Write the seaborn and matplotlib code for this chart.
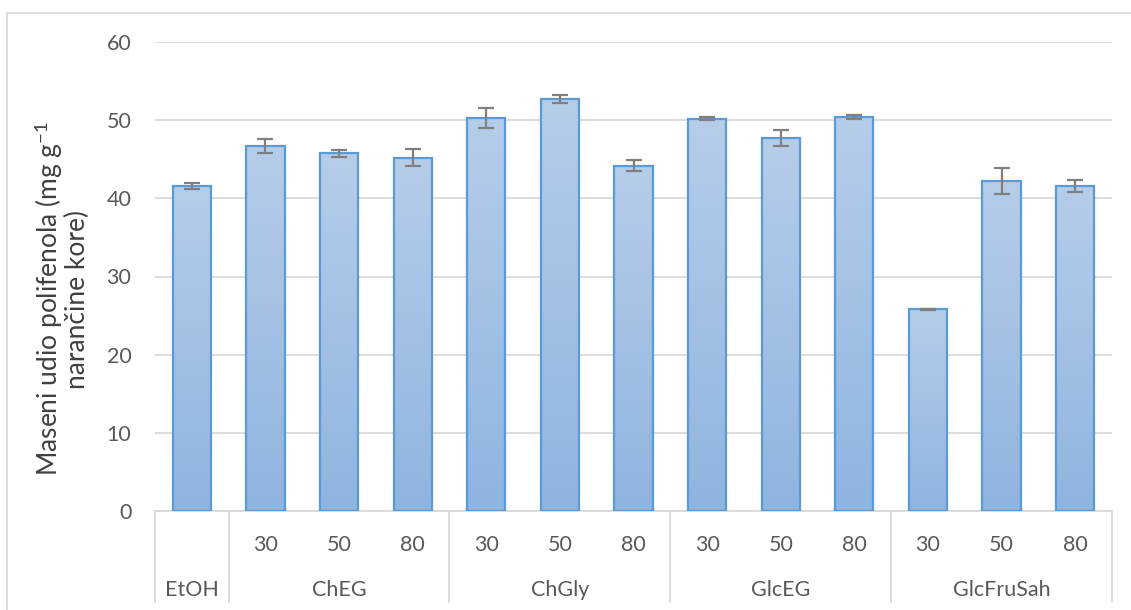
import numpy as np
import pandas as pd
import matplotlib
matplotlib.use("Agg")
import matplotlib.pyplot as plt
import matplotlib.transforms as mtransforms
from matplotlib.colors import LinearSegmentedColormap
import seaborn as sns

# ---- data ----
groups = ["EtOH", "ChEG", "ChGly", "GlcEG", "GlcFruSah"]
group_sizes = [1, 3, 3, 3, 3]
sub_labels = ["", "30", "50", "80", "30", "50", "80", "30", "50", "80", "30", "50", "80"]
values = [41.6, 46.7, 45.75, 45.2, 50.3, 52.7, 44.2, 50.2, 47.7, 50.4, 25.8, 42.2, 41.6]
errors = [0.4, 0.9, 0.45, 1.05, 1.3, 0.55, 0.7, 0.15, 1.0, 0.3, 0.1, 1.7, 0.75]
y_ticks = [0, 10, 20, 30, 40, 50, 60]

sns.set_theme(style="white")
plt.rcParams["font.family"] = ["Lato", "DejaVu Sans"]
plt.rcParams["mathtext.fontset"] = "custom"
plt.rcParams["mathtext.rm"] = "Lato"
plt.rcParams["mathtext.it"] = "Lato:italic"

keys = [f"{i:02d}" for i in range(len(values))]
df = pd.DataFrame({"key": keys, "value": values})

fig = plt.figure(figsize=(11.31, 6.10), dpi=100)
ax = fig.add_axes([155 / 1131, 1 - 511 / 610, (1112 - 155) / 1131, (511 - 42) / 610])

sns.barplot(data=df, x="key", y="value", ax=ax, width=0.52, color="#a4c2e6",
            edgecolor="#5b9bd5", linewidth=1.6, errorbar=None, zorder=3)

# gradient fill clipped to bars
grad = np.linspace(0, 1, 256).reshape(-1, 1)
cmap = LinearSegmentedColormap.from_list("g", ["#b6cde9", "#8fb4e0"])
for p in ax.patches:
    x0, y0 = p.get_x(), p.get_y()
    w, h = p.get_width(), p.get_height()
    im = ax.imshow(grad, cmap=cmap, extent=[x0, x0 + w, y0, y0 + h], origin="upper",
                   aspect="auto", zorder=3.5)
    im.set_clip_path(p)
    p.set_facecolor("none")
    p.set_zorder(4)

centers = [p.get_x() + p.get_width() / 2 for p in ax.patches]
ax.errorbar(centers, values, yerr=errors, fmt="none", ecolor="#7f7f7f",
            elinewidth=1.6, capsize=6, capthick=1.6, zorder=5)

ax.set_xlim(-0.5, len(values) - 0.5)
ax.set_ylim(0, 60)
ax.set_yticks(y_ticks)
ax.set_yticklabels([str(t) for t in y_ticks], fontsize=15.5, color="#595959")
ax.tick_params(axis="y", length=0, pad=17)
ax.yaxis.grid(True, color="#d9d9d9", linewidth=1.3, zorder=0)
ax.set_axisbelow(True)
for s in ["top", "right", "left"]:
    ax.spines[s].set_visible(False)
ax.spines["bottom"].set_color("#d9d9d9")
ax.spines["bottom"].set_linewidth(1.3)

ax.set_xticks(range(len(values)))
ax.set_xticklabels(sub_labels, fontsize=15.5, color="#595959")
ax.tick_params(axis="x", length=0, pad=17)
ax.set_xlabel("")
ax.set_ylabel("Maseni udio polifenola (mg g$^{-1}$\nnarančine kore)", fontsize=19,
              color="#404040", linespacing=1.0)
ax.yaxis.set_label_coords(-0.068, 0.452)

# group labels and separators
trans = mtransforms.blended_transform_factory(ax.transData, ax.transAxes)
start = 0
bounds = [-0.5]
for g, n in zip(groups, group_sizes):
    c = start + (n - 1) / 2
    ax.text(c, -0.168, g, transform=trans, ha="center", va="center", fontsize=15.5,
            color="#595959")
    start += n
    bounds.append(start - 0.5)
for b in bounds:
    ax.plot([b, b], [0, -0.195], transform=trans, color="#d9d9d9", linewidth=1.3,
            clip_on=False)

# outer border lines (left & top)
fig.add_artist(plt.Line2D([7 / 1131, 7 / 1131], [0, 1 - 13 / 610], color="#d9d9d9",
                          linewidth=1.3, transform=fig.transFigure))
fig.add_artist(plt.Line2D([7 / 1131, 1], [1 - 13 / 610, 1 - 13 / 610], color="#d9d9d9",
                          linewidth=1.3, transform=fig.transFigure))

fig.savefig("out.png", dpi=100)
